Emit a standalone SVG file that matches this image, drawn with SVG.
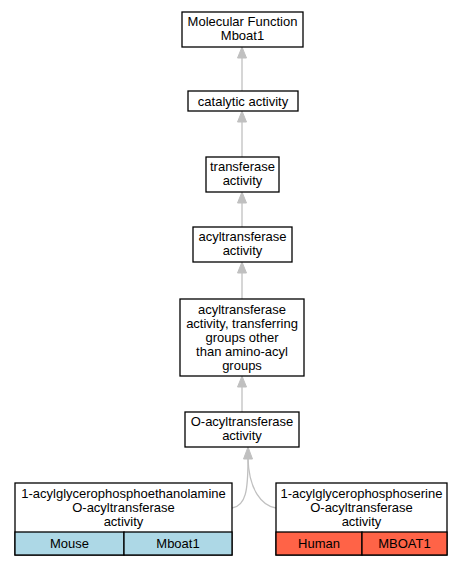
<svg xmlns="http://www.w3.org/2000/svg" width="463" height="565" viewBox="0 0 463 565">
<defs>
<style>
.box{fill:#fff;stroke:#000;stroke-width:1.3}
text{font-family:"Liberation Sans",Arial,sans-serif;font-size:13px;fill:#000;text-anchor:middle}
.edge{fill:none;stroke:#c0c0c0;stroke-width:1.3}
.head{fill:#c0c0c0;stroke:#c0c0c0}
</style>
</defs>
<rect width="463" height="565" fill="#fff"/>
<g id="connectors">
<path class="edge" d="M242,91 V58"/><polygon class="head" points="242,47 237.5,58 246.5,58"/>
<path class="edge" d="M242,157 V122"/><polygon class="head" points="242,111 237.5,122 246.5,122"/>
<path class="edge" d="M242,227 V203"/><polygon class="head" points="242,192 237.5,203 246.5,203"/>
<path class="edge" d="M242,299 V273"/><polygon class="head" points="242,262 237.5,273 246.5,273"/>
<path class="edge" d="M242,412 V387"/><polygon class="head" points="242,376 237.5,387 246.5,387"/>
<path class="edge" d="M232,508 C246,506 248,490 248,459"/>
<path class="edge" d="M276,508 C262,506 249,490 248,459"/>
<polygon class="head" points="248,447 243.5,459 252.5,459"/>
</g>
<g id="n1"><rect class="box" x="182" y="12" width="121" height="35"/><text x="242.5" y="26">Molecular Function</text><text x="242.5" y="40">Mboat1</text></g>
<g id="n2"><rect class="box" x="188" y="91" width="110" height="20"/><text x="243" y="105.5">catalytic activity</text></g>
<g id="n3"><rect class="box" x="206" y="157" width="73" height="35"/><text x="242.5" y="171">transferase</text><text x="242.5" y="185">activity</text></g>
<g id="n4"><rect class="box" x="193" y="227" width="99" height="35"/><text x="242.5" y="241">acyltransferase</text><text x="242.5" y="255">activity</text></g>
<g id="n5"><rect class="box" x="180" y="299" width="124" height="77"/><text x="242" y="314">acyltransferase</text><text x="242" y="328">activity, transferring</text><text x="242" y="342">groups other</text><text x="242" y="356">than amino-acyl</text><text x="242" y="370">groups</text></g>
<g id="n6"><rect class="box" x="185" y="412" width="114" height="35"/><text x="242" y="426">O-acyltransferase</text><text x="242" y="440">activity</text></g>
<g id="n7"><rect class="box" x="15" y="483" width="217" height="72"/><rect x="15" y="532" width="109" height="23" fill="#add8e6" stroke="#000" stroke-width="1.3"/><rect x="124" y="532" width="108" height="23" fill="#add8e6" stroke="#000" stroke-width="1.3"/><text x="123.5" y="498">1-acylglycerophosphoethanolamine</text><text x="123.5" y="512">O-acyltransferase</text><text x="123.5" y="526">activity</text><text x="69.5" y="548">Mouse</text><text x="178" y="548">Mboat1</text></g>
<g id="n8"><rect class="box" x="276" y="483" width="171" height="72"/><rect x="276" y="532" width="86" height="23" fill="#ff6347" stroke="#000" stroke-width="1.3"/><rect x="362" y="532" width="85" height="23" fill="#ff6347" stroke="#000" stroke-width="1.3"/><text x="361.5" y="498">1-acylglycerophosphoserine</text><text x="361.5" y="512">O-acyltransferase</text><text x="361.5" y="526">activity</text><text x="319" y="548">Human</text><text x="404.5" y="548">MBOAT1</text></g>
</svg>
